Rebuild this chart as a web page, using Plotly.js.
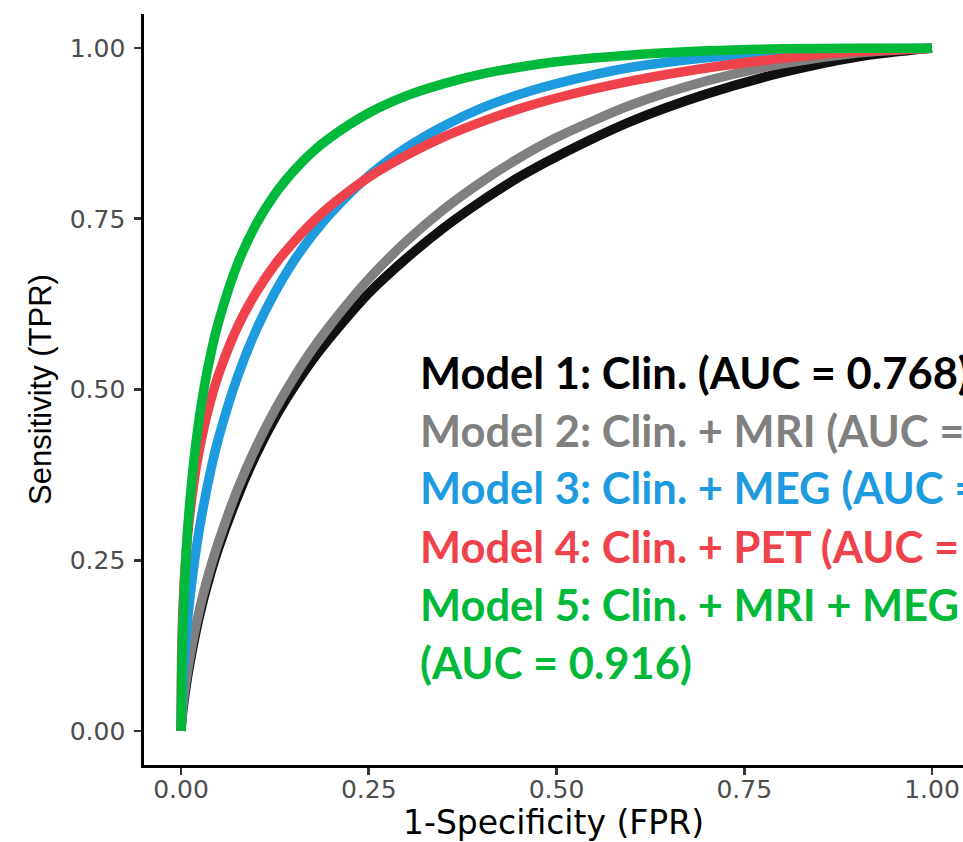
<!DOCTYPE html>
<html>
<head>
<meta charset="utf-8">
<script src="https://cdn.plot.ly/plotly-3.0.1.min.js"></script>
<style>
  html, body { margin: 0; padding: 0; background: #ffffff; overflow: hidden; }
  #chart { width: 963px; height: 842px; }
</style>
</head>
<body>
<div id="chart"></div>
<script>
// False positive rate (x) grid shared by all curves
const fpr = [0, 0.001, 0.0025, 0.005, 0.01, 0.02, 0.03, 0.04, 0.05, 0.075, 0.1, 0.125, 0.15, 0.175, 0.2, 0.25, 0.3, 0.35, 0.4, 0.45, 0.5, 0.6, 0.7, 0.8, 0.9, 1.0];

// Sensitivity (TPR) for each model
const tprModel1 = [0, 0.015, 0.031, 0.052, 0.088, 0.146, 0.193, 0.233, 0.268, 0.342, 0.405, 0.458, 0.503, 0.543, 0.578, 0.641, 0.692, 0.737, 0.776, 0.811, 0.841, 0.893, 0.933, 0.964, 0.987, 1.0];
const tprModel2 = [0, 0.018, 0.036, 0.060, 0.097, 0.155, 0.202, 0.242, 0.277, 0.353, 0.416, 0.470, 0.517, 0.559, 0.596, 0.662, 0.717, 0.764, 0.804, 0.839, 0.869, 0.917, 0.952, 0.977, 0.993, 1.0];
const tprModel3 = [0, 0.039, 0.072, 0.114, 0.176, 0.265, 0.330, 0.384, 0.429, 0.518, 0.587, 0.642, 0.688, 0.726, 0.759, 0.813, 0.854, 0.886, 0.912, 0.932, 0.948, 0.972, 0.986, 0.995, 0.999, 1.0];
const tprModel4 = [0, 0.120, 0.175, 0.231, 0.300, 0.385, 0.442, 0.486, 0.522, 0.591, 0.642, 0.683, 0.716, 0.745, 0.770, 0.811, 0.843, 0.870, 0.892, 0.911, 0.927, 0.952, 0.971, 0.985, 0.995, 1.0];
const tprModel5 = [0, 0.093, 0.155, 0.223, 0.312, 0.423, 0.498, 0.554, 0.599, 0.683, 0.742, 0.786, 0.820, 0.848, 0.870, 0.905, 0.930, 0.948, 0.962, 0.972, 0.980, 0.990, 0.996, 0.999, 1.0, 1.0];

const seriesNames = ["Model 1", "Model 2", "Model 3", "Model 4", "Model 5"];
const seriesColors = ["#111111", "#808080", "#1E9BDF", "#F0424B", "#00B93A"];
const seriesTpr = [tprModel1, tprModel2, tprModel3, tprModel4, tprModel5];

// Legend-like labels written on the chart
const labelTexts = [
  "Model 1: Clin. (AUC = 0.768)",
  "Model 2: Clin. + MRI (AUC =",
  "Model 3: Clin. + MEG (AUC =",
  "Model 4: Clin. + PET (AUC =",
  "Model 5: Clin. + MRI + MEG",
  "(AUC = 0.916)"
];
const labelColors = ["#000000", "#808080", "#1E9BDF", "#F0424B", "#00B93A", "#00B93A"];

// Axis ticks
const tickVals = [0, 0.25, 0.5, 0.75, 1.0];
const tickText = ["0.00", "0.25", "0.50", "0.75", "1.00"];

const traces = seriesTpr.map((tpr, i) => ({
  x: fpr,
  y: tpr,
  type: "scatter",
  mode: "lines",
  name: seriesNames[i],
  line: { color: seriesColors[i], width: 9.5, shape: "spline", smoothing: 0.8 },
  hoverinfo: "skip"
}));

// Geometry
const W = 963, H = 842;
const mL = 144, mR = 0, mT = 14, mB = 77;
const plotW = W - mL - mR, plotH = H - mT - mB;

const lineTopPx = 371.5, linePitch = 58, textLeftPx = 418;
const annotations = labelTexts.map((t, i) => ({
  text: t,
  xref: "paper", yref: "paper",
  x: (textLeftPx - mL) / plotW,
  y: (H - mB - (lineTopPx + i * linePitch)) / plotH,
  xanchor: "left", yanchor: "middle",
  showarrow: false,
  font: { family: "Lato, 'Open Sans', sans-serif", size: 43.5, weight: 700, color: labelColors[i] }
}));

const axisCommon = {
  showline: true, linecolor: "#000000", linewidth: 2.7,
  ticks: "outside", ticklen: 7, tickwidth: 2.7, tickcolor: "#333333",
  tickvals: tickVals, ticktext: tickText,
  showgrid: false, zeroline: false,
  tickfont: { family: "'DejaVu Sans', sans-serif", size: 25, color: "#4D4D4D" },
  fixedrange: true
};

const layout = {
  width: W, height: H,
  margin: { l: mL, r: mR, t: mT, b: mB, pad: 0 },
  paper_bgcolor: "#ffffff", plot_bgcolor: "#ffffff",
  showlegend: false,
  xaxis: Object.assign({}, axisCommon, {
    range: [-0.0493, 1.0413], autorange: false,
    ticklabelstandoff: -7,
    title: { text: "1-Specificity (FPR)", font: { family: "'DejaVu Sans', sans-serif", size: 33, color: "#000000" }, standoff: 17 }
  }),
  yaxis: Object.assign({}, axisCommon, {
    range: [-0.05, 1.05], autorange: false,
    ticklabelstandoff: 4,
    title: { text: "Sensitivity (TPR)", font: { family: "'Liberation Sans', Arial, sans-serif", size: 31, color: "#000000" }, standoff: 9 }
  }),
  annotations: annotations
};

Plotly.newPlot("chart", traces, layout, { displayModeBar: false, staticPlot: true });
</script>
</body>
</html>
